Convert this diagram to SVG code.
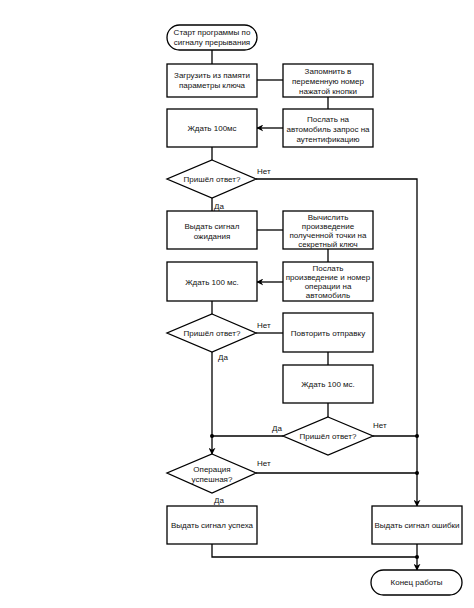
<svg xmlns="http://www.w3.org/2000/svg" width="474" height="608" viewBox="0 0 474 608">
<style>
.s{fill:#fff;stroke:#000;stroke-width:1.3}
.t{font-family:"Liberation Sans",Arial,sans-serif;font-size:8px;fill:#111;text-anchor:middle}
.l{font-family:"Liberation Sans",Arial,sans-serif;font-size:8px;fill:#111}
.c{fill:none;stroke:#000;stroke-width:1.3}
.d{fill:#000}
</style>
<defs>
<marker id="a" viewBox="0 0 10 10" refX="9" refY="5" markerWidth="7" markerHeight="7" orient="auto" markerUnits="userSpaceOnUse">
<path d="M0,0 L10,5 L0,10 L3,5 Z" fill="#000"/>
</marker>
</defs>
<rect width="474" height="608" fill="#fff"/>
<g id="connectors">
<path class="c" d="M212,50 V64"/>
<path class="c" d="M257,80 H283"/>
<path class="c" d="M328,97 V109"/>
<path class="c" d="M283,128 H257" marker-end="url(#a)"/>
<path class="c" d="M212,147 V160"/>
<path class="c" d="M256,179 H417 V506" marker-end="url(#a)"/>
<path class="c" d="M212,198 V211"/>
<path class="c" d="M257,230 H283"/>
<path class="c" d="M328,249 V262"/>
<path class="c" d="M283,282 H257" marker-end="url(#a)"/>
<path class="c" d="M212,301 V314"/>
<path class="c" d="M256,333 H283"/>
<path class="c" d="M328,352 V365"/>
<path class="c" d="M328,403 V417"/>
<path class="c" d="M212,352 V454" marker-end="url(#a)"/>
<path class="c" d="M283,436 H212"/>
<path class="c" d="M373,436 H417"/>
<path class="c" d="M256,473 H417"/>
<path class="c" d="M212,544 V557 H417"/>
<path class="c" d="M417,544 V570" marker-end="url(#a)"/>
<circle class="d" cx="212" cy="436" r="2"/>
<circle class="d" cx="417" cy="436" r="2"/>
<circle class="d" cx="417" cy="473" r="2"/>
<circle class="d" cx="417" cy="557" r="2"/>
<text class="l" x="257" y="174">Нет</text>
<text class="l" x="214" y="209">Да</text>
<text class="l" x="257" y="328">Нет</text>
<text class="l" x="218" y="360">Да</text>
<text class="l" x="272" y="431">Да</text>
<text class="l" x="373" y="428">Нет</text>
<text class="l" x="257" y="466">Нет</text>
<text class="l" x="214" y="503">Да</text>
</g>
<g id="start">
<rect class="s" x="167" y="25" width="90" height="25" rx="12.5"/>
<text class="t" x="212" y="35">Старт программы по</text>
<text class="t" x="212" y="45">сигналу прерывания</text>
</g>
<g id="load">
<rect class="s" x="167" y="64" width="90" height="33"/>
<text class="t" x="212" y="78">Загрузить из памяти</text>
<text class="t" x="212" y="88">параметры ключа</text>
</g>
<g id="remember">
<rect class="s" x="283" y="64" width="90" height="33"/>
<text class="t" x="328" y="74">Запомнить в</text>
<text class="t" x="328" y="84">переменную номер</text>
<text class="t" x="328" y="94">нажатой кнопки</text>
</g>
<g id="send1">
<rect class="s" x="283" y="109" width="90" height="38"/>
<text class="t" x="328" y="122">Послать на</text>
<text class="t" x="328" y="132">автомобиль запрос на</text>
<text class="t" x="328" y="142">аутентификацию</text>
</g>
<g id="wait1">
<rect class="s" x="167" y="109" width="90" height="38"/>
<text class="t" x="212" y="131">Ждать 100мс</text>
</g>
<g id="dec1">
<polygon class="s" points="212,160 256,179 212,198 167,179"/>
<text class="t" x="212" y="182">Пришёл ответ?</text>
</g>
<g id="waitsig">
<rect class="s" x="167" y="211" width="90" height="38"/>
<text class="t" x="212" y="229">Выдать сигнал</text>
<text class="t" x="212" y="239">ожидания</text>
</g>
<g id="compute">
<rect class="s" x="283" y="211" width="90" height="38"/>
<text class="t" x="328" y="219.5">Вычислить</text>
<text class="t" x="328" y="228.5">произведение</text>
<text class="t" x="328" y="237.5">полученной точки на</text>
<text class="t" x="328" y="246.5">секретный ключ</text>
</g>
<g id="send2">
<rect class="s" x="283" y="262" width="90" height="39"/>
<text class="t" x="328" y="271">Послать</text>
<text class="t" x="328" y="280">произведение и номер</text>
<text class="t" x="328" y="289">операции на</text>
<text class="t" x="328" y="298">автомобиль</text>
</g>
<g id="wait2">
<rect class="s" x="167" y="262" width="90" height="39"/>
<text class="t" x="212" y="285">Ждать 100 мс.</text>
</g>
<g id="dec2">
<polygon class="s" points="212,314 256,333 212,352 167,333"/>
<text class="t" x="212" y="336">Пришёл ответ?</text>
</g>
<g id="retry">
<rect class="s" x="283" y="313" width="90" height="39"/>
<text class="t" x="328" y="336">Повторить отправку</text>
</g>
<g id="wait3">
<rect class="s" x="283" y="365" width="90" height="38"/>
<text class="t" x="328" y="387">Ждать 100 мс.</text>
</g>
<g id="dec3">
<polygon class="s" points="328,417 373,436 328,455 283,436"/>
<text class="t" x="328" y="439">Пришёл ответ?</text>
</g>
<g id="dec4">
<polygon class="s" points="212,454 256,473 212,493 167,473"/>
<text class="t" x="212" y="472">Операция</text>
<text class="t" x="212" y="482">успешная?</text>
</g>
<g id="success">
<rect class="s" x="167" y="506" width="90" height="38"/>
<text class="t" x="212" y="528">Выдать сигнал успеха</text>
</g>
<g id="error">
<rect class="s" x="372" y="506" width="90" height="38"/>
<text class="t" x="417" y="528">Выдать сигнал ошибки</text>
</g>
<g id="end">
<rect class="s" x="371" y="570" width="91" height="25" rx="12.5"/>
<text class="t" x="416.5" y="585">Конец работы</text>
</g>
</svg>
